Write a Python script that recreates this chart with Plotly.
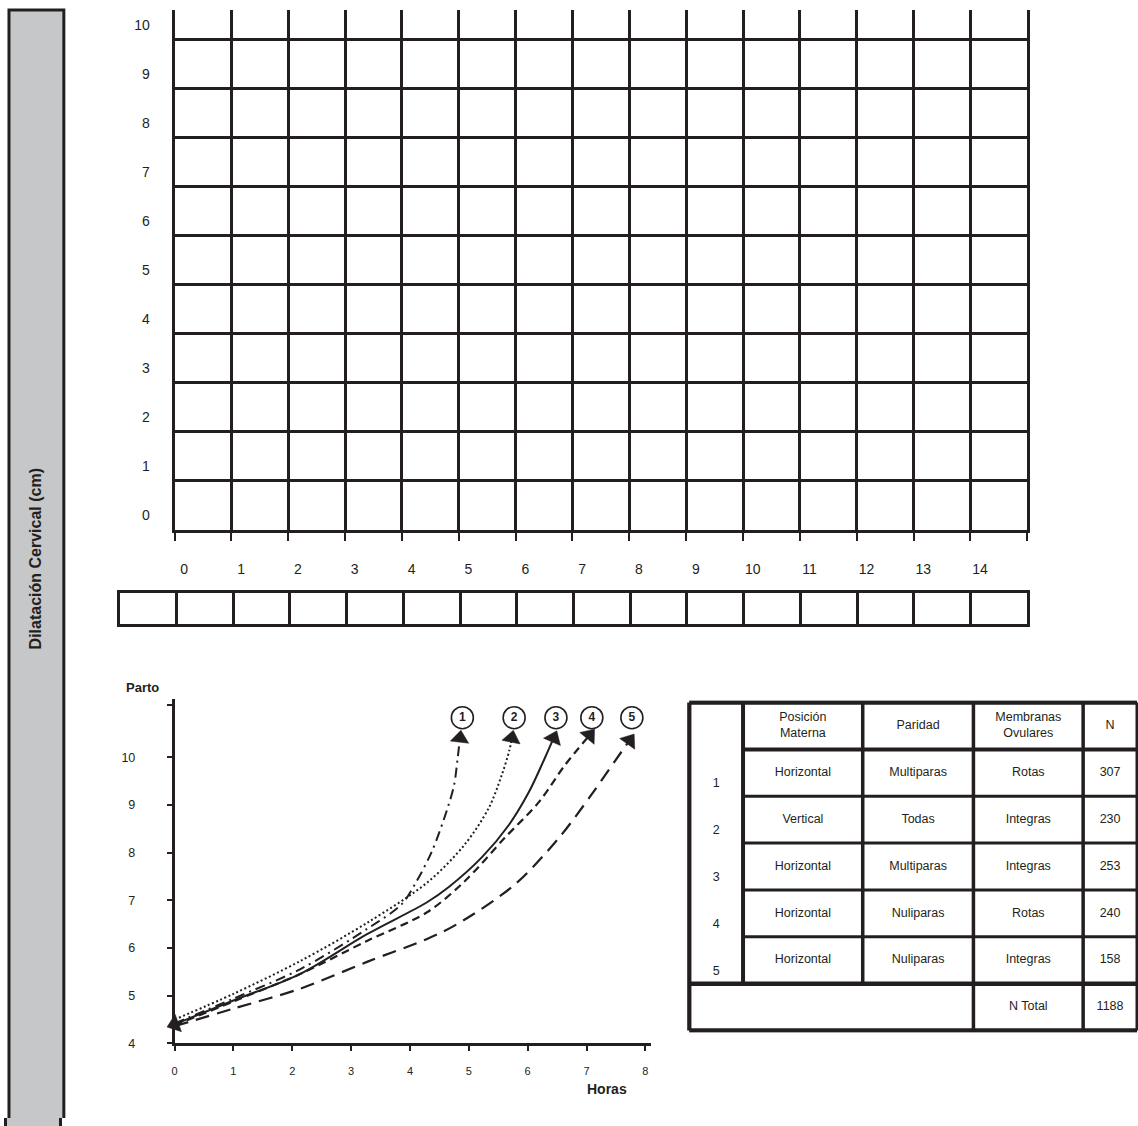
import plotly.graph_objects as go

# ---------------- data ----------------
# upper partograph grid
grid_hours = list(range(15))          # hour labels 0..14 under the grid
grid_cm = list(range(11))             # dilatation labels 0..10

# lower chart: curves (hours, cm)
curve_ids = ["1", "2", "3", "4", "5"]
hours_1 = [0, 1.0, 2.14, 3.27, 3.86, 4.08, 4.37, 4.63, 4.75, 4.81, 4.85]
cm_1 = [4.42, 4.94, 5.56, 6.40, 6.92, 7.33, 8.02, 8.90, 9.42, 9.98, 10.40]
hours_2 = [0, 1.0, 2.14, 3.30, 4.30, 4.93, 5.34, 5.56, 5.69, 5.73]
cm_2 = [4.50, 5.04, 5.73, 6.55, 7.38, 8.17, 8.94, 9.63, 10.15, 10.40]
hours_3 = [0, 1.0, 2.14, 3.27, 4.29, 4.66, 5.22, 5.68, 6.02, 6.29, 6.44]
cm_3 = [4.40, 4.90, 5.46, 6.29, 6.96, 7.28, 7.90, 8.58, 9.27, 9.98, 10.40]
hours_4 = [0, 1.0, 2.14, 3.27, 4.29, 4.93, 5.61, 6.19, 6.63, 7.05]
cm_4 = [4.38, 4.88, 5.46, 6.15, 6.75, 7.40, 8.31, 9.06, 9.83, 10.46]
hours_5 = [0, 1.0, 2.14, 3.27, 4.29, 4.80, 5.78, 6.53, 7.08, 7.47, 7.73]
cm_5 = [4.36, 4.73, 5.15, 5.71, 6.19, 6.50, 7.33, 8.31, 9.21, 9.90, 10.35]
lower_hour_ticks = list(range(9))
lower_cm_ticks = [4, 5, 6, 7, 8, 9, 10]
parto_level = 11.1
label_level = 10.83

# table
table_header = ["Posición<br>Materna", "Paridad", "Membranas<br>Ovulares", "N"]
group_ids = ["1", "2", "3", "4", "5"]
posicion = ["Horizontal", "Vertical", "Horizontal", "Horizontal", "Horizontal"]
paridad = ["Multiparas", "Todas", "Multiparas", "Nuliparas", "Nuliparas"]
membranas = ["Rotas", "Integras", "Integras", "Rotas", "Integras"]
n_values = [307, 230, 253, 240, 158]
total_label = "N Total"
n_total = 1188

# ---------------- style ----------------
INK = "#231f20"
GRAY = "#c6c7c9"
W = 1138
H = 1118   # the page adds a few px below the figure; keeps the 1126 px photo unscaled
FONT = "Liberation Sans, Arial, sans-serif"


def fx(px):
    return px / W


def fy(py):
    return 1 - py / H


fig = go.Figure()

fig.add_trace(go.Scatter(x=[], y=[], xaxis="x", yaxis="y", showlegend=False, hoverinfo="skip"))
fig.add_trace(go.Scatter(x=[], y=[], xaxis="x2", yaxis="y2", showlegend=False, hoverinfo="skip"))

curves = [(hours_1, cm_1, "10px,5px,2px,5px", 2.0),
          (hours_2, cm_2, "2px,2.5px", 2.0),
          (hours_3, cm_3, "solid", 2.0),
          (hours_4, cm_4, "8px,5px", 2.2),
          (hours_5, cm_5, "14px,8px", 2.2)]
for (hx, cy, dash, lw) in curves:
    sizes = [0] * (len(hx) - 1) + [16]
    fig.add_trace(go.Scatter(
        x=hx, y=cy, xaxis="x3", yaxis="y3", mode="lines+markers",
        line=dict(color=INK, width=lw, dash=dash, shape="spline", smoothing=0.9),
        marker=dict(symbol="triangle-up", size=sizes, color=INK, angleref="previous",
                    opacity=1, line=dict(width=0.5, color=INK)),
        showlegend=False, hoverinfo="skip", cliponaxis=False))

fig.add_trace(go.Scatter(
    x=[hours_3[0]], y=[cm_3[0]], xaxis="x3", yaxis="y3", mode="markers",
    marker=dict(symbol="triangle-up", size=16, color=INK, angle=250, line=dict(width=0.5, color=INK)),
    showlegend=False, hoverinfo="skip", cliponaxis=False))

end_hours = [c[0][-1] + 0.04 for c in curves]
fig.add_trace(go.Scatter(
    x=end_hours, y=[label_level] * len(end_hours), xaxis="x3", yaxis="y3",
    mode="markers+text", text=["<b>%s</b>" % c for c in curve_ids],
    textposition="middle center", textfont=dict(family=FONT, size=12, color=INK),
    marker=dict(symbol="circle-open", size=22, color=INK, line=dict(width=1.6, color=INK)),
    showlegend=False, hoverinfo="skip", cliponaxis=False))

col_edges = [0, 54, 174, 285, 395, 449]
col_mid = [(col_edges[i] + col_edges[i + 1]) / 2 for i in range(5)]
tx, ty, tt = [], [], []
for j, h in enumerate(table_header):
    tx.append(col_mid[j + 1]); ty.append(0.5); tt.append(h)
for i in range(5):
    r = i + 1.5
    tx += [col_mid[0], col_mid[1], col_mid[2], col_mid[3], col_mid[4]]
    ty += [r + 0.24, r, r, r, r]
    tt += [group_ids[i], posicion[i], paridad[i], membranas[i], str(n_values[i])]
tx += [col_mid[3], col_mid[4]]
ty += [6.5, 6.5]
tt += [total_label, str(n_total)]
fig.add_trace(go.Scatter(
    x=tx, y=ty, text=tt, mode="text", xaxis="x4", yaxis="y4",
    textfont=dict(family=FONT, size=12.5, color=INK), textposition="middle center",
    showlegend=False, hoverinfo="skip"))

shapes = []
shapes.append(dict(type="rect", xref="paper", yref="paper", x0=fx(6), x1=fx(61), y0=fy(1140), y1=fy(10),
                   fillcolor=GRAY, line=dict(color=INK, width=3), layer="below"))


def seg(x0, y0, x1, y1, w):
    shapes.append(dict(type="line", xref="x4", yref="y4", x0=x0, y0=y0, x1=x1, y1=y1,
                       line=dict(color=INK, width=w)))


nrows = 7
seg(col_edges[0], 0, col_edges[-1], 0, 4.5)
seg(col_edges[1], 1, col_edges[-1], 1, 4)
for r in range(2, 6):
    seg(col_edges[1], r, col_edges[-1], r, 3)
seg(col_edges[0], 6, col_edges[-1], 6, 4.5)
seg(col_edges[0], nrows, col_edges[-1], nrows, 4.5)
seg(col_edges[0], 0, col_edges[0], nrows, 4.5)
seg(col_edges[1], 0, col_edges[1], 6, 4)
seg(col_edges[2], 0, col_edges[2], 6, 3.5)
seg(col_edges[3], 0, col_edges[3], nrows, 3.5)
seg(col_edges[4], 0, col_edges[4], nrows, 3.5)
seg(col_edges[5], 0, col_edges[5], nrows, 3)

annotations = [
    dict(text="<b>Dilatación Cervical (cm)</b>", x=fx(33), y=fy(562), xref="paper", yref="paper",
         xanchor="center", yanchor="middle",
         showarrow=False, textangle=-90, font=dict(family=FONT, size=16, color=INK)),
    dict(text="<b>Parto</b>", x=fx(140), y=fy(692), xref="paper", yref="paper",
         xanchor="center", yanchor="middle",
         showarrow=False, font=dict(family=FONT, size=13, color=INK)),
    dict(text="<b>Horas</b>", x=fx(606), y=fy(1096), xref="paper", yref="paper",
         xanchor="center", yanchor="middle",
         showarrow=False, font=dict(family=FONT, size=14, color=INK)),
]

fig.update_layout(
    width=W, height=H, margin=dict(l=0, r=0, t=0, b=0, pad=0),
    paper_bgcolor="white", plot_bgcolor="rgba(0,0,0,0)", showlegend=False,
    font=dict(family=FONT, color=INK),
    shapes=shapes, annotations=annotations,
    xaxis=dict(domain=[fx(172), fx(1027)], range=[0, 15], anchor="y",
               tickmode="array", tickvals=[h + 0.17 for h in grid_hours],
               ticktext=[str(h) for h in grid_hours], ticks="", ticklabelstandoff=25,
               tickfont=dict(size=14, color=INK), showgrid=False, zeroline=False,
               showline=True, linecolor=INK, linewidth=3,
               minor=dict(tickmode="array", tickvals=list(range(16)), showgrid=True,
                          gridcolor=INK, gridwidth=2.5, ticks="outside", ticklen=8,
                          tickwidth=2, tickcolor=INK)),
    yaxis=dict(domain=[fy(533), fy(10)], range=[0, 10.61], anchor="x",
               tickmode="array", tickvals=[c + 0.3 for c in grid_cm],
               ticktext=[str(c) for c in grid_cm], ticks="", ticklabelstandoff=19,
               tickfont=dict(size=14, color=INK), showgrid=False, zeroline=False,
               showline=True, mirror=True, linecolor=INK, linewidth=3,
               minor=dict(tickmode="array", tickvals=list(range(11)), showgrid=True,
                          gridcolor=INK, gridwidth=2.5)),
    xaxis2=dict(domain=[fx(117), fx(1027)], range=[-1, 15], anchor="y2",
                tickmode="array", tickvals=list(range(-1, 16)), showticklabels=False, ticks="",
                showgrid=True, gridcolor=INK, gridwidth=2.5, zeroline=False,
                showline=True, mirror=True, linecolor=INK, linewidth=3),
    yaxis2=dict(domain=[fy(628), fy(597)], range=[0, 1], anchor="x2",
                showticklabels=False, ticks="", showgrid=False, zeroline=False,
                showline=True, mirror=True, linecolor=INK, linewidth=3),
    xaxis3=dict(domain=[fx(172), fx(650)], range=[0, 8.1], anchor="y3",
                tickmode="array", tickvals=lower_hour_ticks, ticks="outside", ticklen=5,
                tickwidth=2, tickcolor=INK, ticklabelstandoff=11,
                tickfont=dict(size=11, color=INK), showgrid=False, zeroline=False,
                showline=True, linecolor=INK, linewidth=2.5),
    yaxis3=dict(domain=[fy(1050), fy(703)], range=[4, 11.23], anchor="x3",
                tickmode="array", tickvals=lower_cm_ticks + [parto_level],
                ticktext=[str(v) for v in lower_cm_ticks] + [""], ticks="outside", ticklen=5,
                tickwidth=2, tickcolor=INK, ticklabelstandoff=29,
                tickfont=dict(size=12.5, color=INK), showgrid=False, zeroline=False,
                showline=True, linecolor=INK, linewidth=2.5),
    xaxis4=dict(domain=[fx(686), 1.0], range=[-2, 450], anchor="y4", visible=False),
    yaxis4=dict(domain=[fy(1039), fy(705)], range=[7.042, -0.042], anchor="x4", visible=False),
)

# page styling: no margins; the few px of page below the figure continue the gray band
post = ("var s=document.documentElement.style;s.margin='0';s.padding='0';s.overflow='hidden';"
        "var b=document.body.style;b.margin='0';b.padding='0';b.overflow='hidden';"
        "s.background='linear-gradient(to right, #ffffff 4.5px, #231f20 4.5px, #231f20 7.5px, "
        "#c6c7c9 7.5px, #c6c7c9 59.5px, #231f20 59.5px, #231f20 62.5px, #ffffff 62.5px)';")
fig.write_html("out.html", config={"displayModeBar": False}, post_script=post)
